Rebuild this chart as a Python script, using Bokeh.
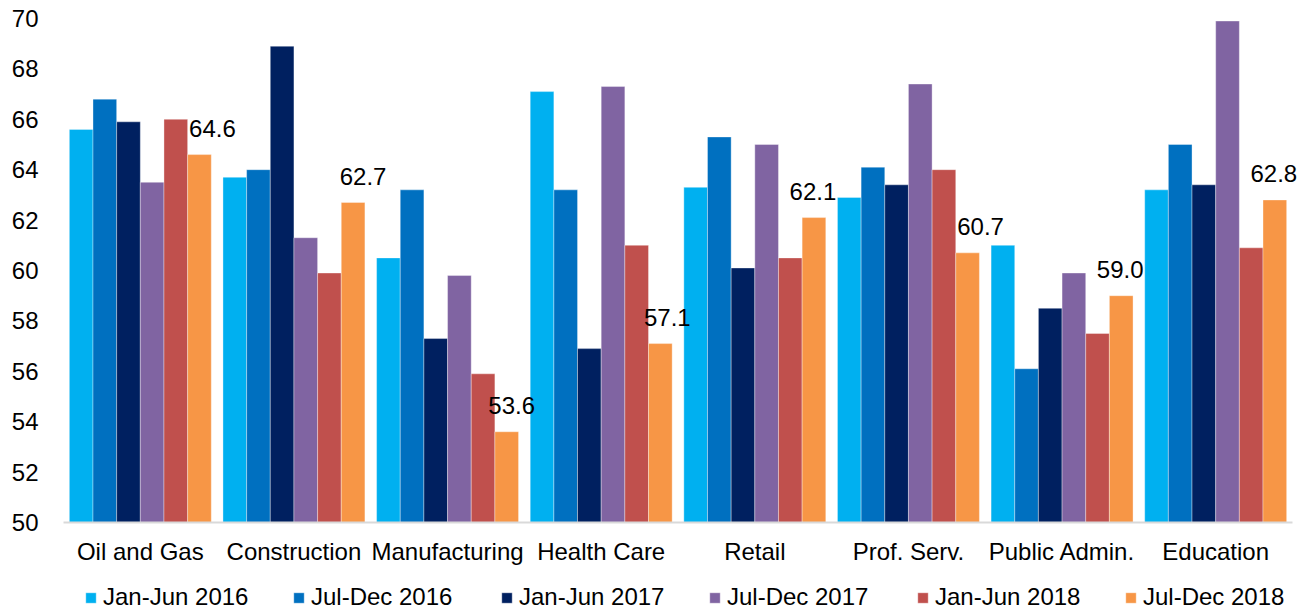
from bokeh.plotting import figure
from bokeh.models import ColumnDataSource, FactorRange, Range1d, FixedTicker, Legend, LegendItem
from bokeh.transform import dodge
from bokeh.core.properties import value
from bokeh.embed import file_html
from bokeh.resources import INLINE

categories = ["Oil and Gas", "Construction", "Manufacturing", "Health Care",
              "Retail", "Prof. Serv.", "Public Admin.", "Education"]
series_names = ["Jan-Jun 2016", "Jul-Dec 2016", "Jan-Jun 2017",
                "Jul-Dec 2017", "Jan-Jun 2018", "Jul-Dec 2018"]
jan_jun_2016 = [65.6, 63.7, 60.5, 67.1, 63.3, 62.9, 61.0, 63.2]
jul_dec_2016 = [66.8, 64.0, 63.2, 63.2, 65.3, 64.1, 56.1, 65.0]
jan_jun_2017 = [65.9, 68.9, 57.3, 56.9, 60.1, 63.4, 58.5, 63.4]
jul_dec_2017 = [63.5, 61.3, 59.8, 67.3, 65.0, 67.4, 59.9, 69.9]
jan_jun_2018 = [66.0, 59.9, 55.9, 61.0, 60.5, 64.0, 57.5, 60.9]
jul_dec_2018 = [64.6, 62.7, 53.6, 57.1, 62.1, 60.7, 59.0, 62.8]
y_ticks = [50, 52, 54, 56, 58, 60, 62, 64, 66, 68, 70]

# styling / layout
colors = ["#00b0f0", "#0070c0", "#002060", "#8064a2", "#c0504d", "#f79646"]
label_dx = [13, 10, 5, 7, -1, 13, -1, -1]
FONT = "Liberation Sans"
FS = "24px"
BAR_W = 0.154
W, H = 1313, 611
TOP, LEFT, RIGHT = 18, 42, 21
AXIS_X0, AXIS_X1 = 63, 1292          # pixel extent of the category axis line
Y_MIN, Y_MAX = 50, 70
PX_PER_UNIT = 25.2
y_start = Y_MAX - (H - TOP) / PX_PER_UNIT   # frame reaches the bottom edge, axis sits at 50
n_cat = len(categories)
px_per_cat = (AXIS_X1 - AXIS_X0) / n_cat
x_pad = (AXIS_X0 - LEFT) / px_per_cat      # padding applied on each side

series = [jan_jun_2016, jul_dec_2016, jan_jun_2017, jul_dec_2017, jan_jun_2018, jul_dec_2018]
data = {"cat": categories}
for i, s in enumerate(series):
    data["s%d" % i] = s
data["lbl"] = ["%.1f" % v for v in jul_dec_2018]
data["dx"] = label_dx
source = ColumnDataSource(data)

p = figure(x_range=FactorRange(*categories, range_padding=x_pad, range_padding_units="absolute"),
           y_range=Range1d(y_start, Y_MAX),
           width=W, height=H, output_backend="svg", toolbar_location=None,
           min_border_left=LEFT, min_border_right=0, min_border_top=TOP, min_border_bottom=0)

renderers = []
for i in range(6):
    r = p.vbar(x=dodge("cat", (i - 2.5) * BAR_W, range=p.x_range), top="s%d" % i, bottom=Y_MIN,
               width=BAR_W, source=source, fill_color=colors[i],
               line_color="white", line_alpha=0.35, line_width=1)
    renderers.append(r)

p.text(x=dodge("cat", 2.5 * BAR_W, range=p.x_range), y="s5", text="lbl", source=source,
       x_offset="dx", y_offset=-26, text_align="center", text_baseline="alphabetic",
       text_font=value(FONT), text_font_size=FS, text_color="black")

p.xgrid.grid_line_color = None
p.ygrid.grid_line_color = None
p.outline_line_color = None
p.background_fill_color = "white"
p.border_fill_color = "white"

xa = p.xaxis[0]
xa.fixed_location = Y_MIN
xa.bounds = (0, n_cat)
xa.axis_line_color = "#d9d9d9"
xa.axis_line_width = 2
xa.major_tick_line_color = None
xa.minor_tick_line_color = None
xa.major_tick_out = 0
xa.major_label_standoff = 15
xa.major_label_text_font = FONT
xa.major_label_text_font_size = FS
xa.major_label_text_color = "black"

ya = p.yaxis[0]
ya.ticker = FixedTicker(ticks=y_ticks)
ya.axis_line_color = None
ya.major_tick_line_color = None
ya.minor_tick_line_color = None
ya.major_tick_out = 0
ya.major_label_standoff = 4
ya.major_label_text_font = FONT
ya.major_label_text_font_size = FS
ya.major_label_text_color = "black"

legend = Legend(items=[LegendItem(label=n, renderers=[r]) for n, r in zip(series_names, renderers)],
                orientation="horizontal", location=(84 - LEFT, 0),
                glyph_width=13, glyph_height=13, label_standoff=6, label_width=170,
                spacing=19, padding=0, margin=0, border_line_color=None,
                background_fill_alpha=0, label_text_font=FONT, label_text_font_size=FS,
                label_text_color="black")
p.add_layout(legend, "center")

open("out.html", "w").write(file_html(p, INLINE))
